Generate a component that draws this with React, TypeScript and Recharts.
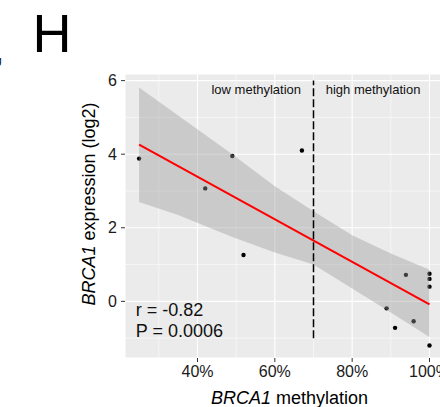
import React from 'react';
import {
  ComposedChart,
  XAxis,
  YAxis,
  CartesianGrid,
  Scatter,
  Area,
  Line,
  ReferenceLine,
  ReferenceDot,
} from 'recharts';

const FONT = '"Liberation Sans", Arial, Helvetica, sans-serif';

// samples: BRCA1 promoter methylation (%) vs expression (log2)
const methylation = [24.9, 42.0, 49.0, 51.9, 67.0, 88.9, 91.1, 93.9, 95.9, 100, 100, 100, 100];
const expression = [3.88, 3.07, 3.95, 1.26, 4.1, -0.19, -0.72, 0.72, -0.54, 0.75, 0.61, 0.4, -1.2];

// linear fit and its confidence band
const fitX = [24.9, 100];
const fitY = [4.26, -0.08];
const bandX = [24.9, 35, 49, 60, 70, 80, 90, 100];
const bandLower = [2.7, 2.35, 1.75, 1.33, 1.0, 0.35, -0.3, -0.97];
const bandUpper = [5.81, 5.05, 4.0, 3.13, 2.45, 1.8, 1.3, 0.86];

const xTicks = [40, 60, 80, 100];
const yTicks = [0, 2, 4, 6];
const xMinor = [30, 50, 70, 90];
const yMinor = [-1, 1, 3, 5];

const cutoff = 70;
const groupLabels = ['low methylation', 'high methylation'];
const groupLabelX = [55.2, 85.4];
const groupLabelY = 5.77;
const statLines = ['r = -0.82', 'P = 0.0006'];
const statY = [-0.22, -0.81];
const statX = 24.3;

const points = methylation.map((x, i) => ({ x, y: expression[i] }));
const fit = fitX.map((x, i) => ({ x, y: fitY[i] }));
const band = bandX.map((x, i) => ({ x, range: [bandLower[i], bandUpper[i]] }));

const XTitle = (props: any) => {
  const { x, y, width } = props.viewBox;
  return (
    <text x={x + width / 2 + 5} y={y + 46} textAnchor="middle" fontFamily={FONT} fontSize={18} fill="#000">
      <tspan fontStyle="italic">BRCA1</tspan>
      <tspan> methylation</tspan>
    </text>
  );
};

const YTitle = (props: any) => {
  const { x, y, height } = props.viewBox;
  const cx = x + 95;
  const cy = y + height / 2 - 12;
  return (
    <text
      x={cx}
      y={cy}
      transform={`rotate(-90, ${cx}, ${cy})`}
      textAnchor="middle"
      fontFamily={FONT}
      fontSize={18}
      fill="#000"
    >
      <tspan fontStyle="italic">BRCA1</tspan>
      <tspan> expression (log2)</tspan>
    </text>
  );
};

const textAt = (value: string, size: number, anchor: string) => (props: any) => {
  const { x, y, width, height } = props.viewBox;
  return (
    <text
      x={anchor === 'middle' ? x + width / 2 : x}
      y={y + height / 2}
      dy="0.35em"
      textAnchor={anchor}
      fontFamily={FONT}
      fontSize={size}
      fill="#111"
    >
      {value}
    </text>
  );
};

const Dot = (p: any) => <circle cx={p.cx} cy={p.cy} r={2.2} fill="#000" />;

export default function App() {
  return (
    <div style={{ position: 'absolute', left: 0, top: 0, width: 440, height: 407, overflow: 'hidden', background: '#fff' }}>
      <svg width={440} height={407} style={{ position: 'absolute', left: 0, top: 0 }}>
        <text x={32.5} y={52.3} fontFamily={FONT} fontSize={54} fill="#000">H</text>
        <text x={-4.5} y={64} fontFamily={FONT} fontSize={11} fill="#000">g</text>
      </svg>
      <div style={{ position: 'absolute', left: 0, top: 0 }}>
        <ComposedChart width={444} height={407} margin={{ top: 74, right: 0, bottom: 0, left: 0 }}>
          <CartesianGrid fill="#EBEBEB" stroke="#FFFFFF" strokeWidth={1.1} />
          {xMinor.map((v) => (
            <ReferenceLine key={'xm' + v} x={v} stroke="#FFFFFF" strokeWidth={0.55} zIndex={-50} />
          ))}
          {yMinor.map((v) => (
            <ReferenceLine key={'ym' + v} y={v} stroke="#FFFFFF" strokeWidth={0.55} zIndex={-50} />
          ))}
          <XAxis
            type="number"
            dataKey="x"
            domain={[21.25, 103.75]}
            allowDataOverflow
            ticks={xTicks}
            interval={0}
            tickFormatter={(v) => `${v}%`}
            axisLine={false}
            tickLine={{ stroke: '#333' }}
            tickSize={4}
            tickMargin={4}
            height={49}
            tick={{ fill: '#1a1a1a', fontSize: 16, fontFamily: FONT }}
            label={XTitle}
          />
          <YAxis
            type="number"
            domain={[-1.54, 6.18]}
            allowDataOverflow
            ticks={yTicks}
            interval={0}
            axisLine={false}
            tickLine={{ stroke: '#333' }}
            tickSize={4}
            tickMargin={4}
            width={125}
            tick={{ fill: '#1a1a1a', fontSize: 16, fontFamily: FONT }}
            label={YTitle}
          />
          <Scatter data={points} dataKey="y" shape={Dot} isAnimationActive={false} zIndex={50} />
          <Area
            data={band}
            dataKey="range"
            type="linear"
            stroke="none"
            fill="#999999"
            fillOpacity={0.4}
            isAnimationActive={false}
            zIndex={100}
          />
          <Line
            data={fit}
            dataKey="y"
            type="linear"
            stroke="#FF0000"
            strokeWidth={2}
            dot={false}
            isAnimationActive={false}
            zIndex={400}
          />
          <ReferenceLine
            segment={[{ x: cutoff, y: -1 }, { x: cutoff, y: 6 }]}
            stroke="#000"
            strokeWidth={1.5}
            strokeDasharray="8 3"
            zIndex={450}
          />
          {groupLabels.map((t, i) => (
            <ReferenceDot
              key={t}
              x={groupLabelX[i]}
              y={groupLabelY}
              r={1}
              fill="none"
              stroke="none"
              zIndex={500}
              label={{ content: textAt(t, 13, 'middle') }}
            />
          ))}
          {statLines.map((t, i) => (
            <ReferenceDot
              key={t}
              x={statX}
              y={statY[i]}
              r={1}
              fill="none"
              stroke="none"
              zIndex={500}
              label={{ content: textAt(t, 18, 'start') }}
            />
          ))}
        </ComposedChart>
      </div>
    </div>
  );
}
